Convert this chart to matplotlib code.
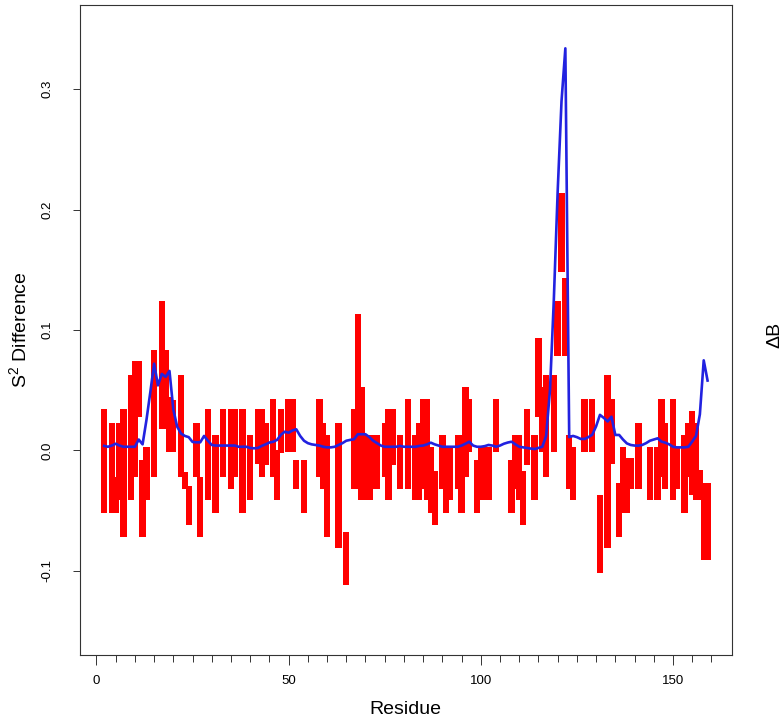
import matplotlib
matplotlib.use("Agg")
import matplotlib.pyplot as plt
import numpy as np

plt.rcParams['font.family'] = ['Liberation Sans', 'DejaVu Sans']
plt.rcParams['mathtext.fontset'] = 'custom'
plt.rcParams['mathtext.rm'] = 'Liberation Sans'

# S2 difference range per residue (red bars): residue, low, high
red_res = [2, 4, 5, 6, 7, 9, 10, 11, 12, 13, 15, 17, 18, 19, 20, 22, 23, 24, 26, 27, 29,
           31, 33, 35, 36, 38, 40, 42, 43, 44, 46, 47, 48, 50, 51, 52, 54, 58, 59, 60, 63, 65,
           67, 68, 69, 70, 71, 72, 73, 75, 76, 77, 79, 81, 83, 84, 85, 86, 87, 88, 90, 91,
           92, 94, 95, 96, 97, 99, 100, 101, 102, 104, 108, 109, 110, 111, 112, 114, 115, 116, 117, 119,
           120, 121, 122, 123, 124, 127, 129, 131, 133, 134, 136, 137, 138, 139, 141, 144, 146, 147, 148, 150,
           151, 153, 154, 155, 156, 157, 158, 159]
red_lo = [-0.052, -0.052, -0.052, -0.041, -0.072, -0.041, -0.022, 0.028, -0.072, -0.041, -0.022, 0.018, 0.018, -0.001, -0.001, -0.022, -0.032, -0.062, -0.022, -0.072, -0.041,
          -0.052, -0.022, -0.032, -0.022, -0.052, -0.041, -0.011, -0.022, -0.012, -0.022, -0.041, -0.002, -0.001, -0.001, -0.032, -0.052, -0.022, -0.032, -0.072, -0.081, -0.112,
          -0.032, -0.032, -0.041, -0.041, -0.041, -0.032, -0.032, -0.022, -0.041, -0.012, -0.032, -0.032, -0.041, -0.041, -0.032, -0.041, -0.052, -0.062, -0.032, -0.052,
          -0.041, -0.032, -0.052, -0.022, -0.001, -0.052, -0.041, -0.041, -0.041, -0.001, -0.052, -0.032, -0.041, -0.062, -0.012, -0.041, 0.028, -0.001, -0.022, -0.001,
          0.078, 0.148, 0.078, -0.032, -0.041, -0.001, -0.001, -0.102, -0.081, -0.011, -0.072, -0.052, -0.052, -0.032, -0.032, -0.041, -0.041, -0.022, -0.032, -0.041,
          -0.032, -0.052, -0.022, -0.037, -0.041, -0.041, -0.091, -0.091]
red_hi = [0.034, 0.023, -0.022, 0.023, 0.034, 0.063, 0.074, 0.074, -0.008, 0.003, 0.083, 0.124, 0.083, 0.044, 0.042, 0.063, -0.018, -0.030, 0.023, -0.022, 0.034,
          0.013, 0.034, 0.034, 0.034, 0.034, 0.013, 0.034, 0.034, 0.023, 0.043, 0.000, 0.034, 0.043, 0.043, -0.008, -0.008, 0.043, 0.023, 0.013, 0.023, -0.068,
          0.034, 0.113, 0.053, 0.013, 0.013, 0.013, 0.013, 0.023, 0.034, 0.034, 0.013, 0.043, 0.013, 0.023, 0.043, 0.043, 0.003, -0.017, 0.013, 0.003,
          0.003, 0.013, 0.013, 0.053, 0.043, -0.008, 0.003, 0.003, 0.003, 0.043, -0.008, 0.013, 0.013, -0.017, 0.034, 0.013, 0.093, 0.053, 0.063, 0.063,
          0.124, 0.214, 0.143, 0.013, 0.003, 0.043, 0.043, -0.037, 0.063, 0.043, -0.027, 0.003, -0.006, -0.006, 0.023, 0.003, 0.003, 0.043, 0.023, 0.043,
          0.003, 0.013, 0.023, 0.033, 0.023, -0.016, -0.027, -0.027]

# Delta B per residue (blue line), residues 2..159
blue_res = list(range(2, 160))
blue_val = [0.0037, 0.003, 0.004, 0.0055, 0.004, 0.003, 0.003, 0.003, 0.003, 0.009,
            0.005, 0.025, 0.048, 0.072, 0.054, 0.0635, 0.061, 0.066, 0.034, 0.0197,
            0.014, 0.012, 0.011, 0.007, 0.0067, 0.0067, 0.012, 0.008, 0.0045, 0.004,
            0.004, 0.004, 0.004, 0.004, 0.004, 0.003, 0.003, 0.003, 0.002, 0.0017,
            0.002, 0.0037, 0.005, 0.0065, 0.0072, 0.0087, 0.013, 0.0155, 0.0147, 0.0165,
            0.0175, 0.012, 0.008, 0.006, 0.005, 0.0045, 0.004, 0.003, 0.0025, 0.0025,
            0.003, 0.0045, 0.006, 0.008, 0.0087, 0.0092, 0.0134, 0.0134, 0.0134, 0.011,
            0.008, 0.006, 0.004, 0.003, 0.003, 0.003, 0.003, 0.0037, 0.003, 0.003,
            0.003, 0.003, 0.0037, 0.004, 0.005, 0.0064, 0.005, 0.004, 0.003, 0.003,
            0.003, 0.003, 0.003, 0.004, 0.0055, 0.0072, 0.004, 0.003, 0.003, 0.0035,
            0.0045, 0.004, 0.003, 0.004, 0.0055, 0.0065, 0.0072, 0.005, 0.003, 0.0025,
            0.002, 0.0015, 0.0011, 0.002, 0.003, 0.012, 0.05, 0.125, 0.215, 0.29,
            0.334, 0.011, 0.012, 0.011, 0.0095, 0.0095, 0.011, 0.013, 0.02, 0.0295,
            0.027, 0.024, 0.028, 0.0128, 0.0128, 0.009, 0.0058, 0.0045, 0.004, 0.0039,
            0.0045, 0.006, 0.008, 0.009, 0.010, 0.0073, 0.0064, 0.005, 0.003, 0.0025,
            0.0025, 0.0025, 0.003, 0.0073, 0.012, 0.03, 0.0748, 0.058]

ytick_vals = [-0.1, 0.0, 0.1, 0.2, 0.3]
ytick_labels = ["-0.1", "0.0", "0.1", "0.2", "0.3"]
xtick_major = [0, 50, 100, 150]

W, H = 783, 724
fig = plt.figure(figsize=(W / 100, H / 100), dpi=100)
ax = fig.add_axes([80 / W, 69 / H, 651.7 / W, 650 / H])

lo = np.array(red_lo)
hi = np.array(red_hi)
ax.bar(red_res, hi - lo, bottom=lo, width=1.65, color='#ff0000', linewidth=0)
ax.plot(blue_res, blue_val, color='#2222e0', linewidth=1.9, solid_joinstyle='round')

ax.set_xlim(-4.28, 165.28)
ax.set_ylim(-0.17, 0.37)

ax.set_xticks(xtick_major)
ax.set_xticklabels([str(v) for v in xtick_major])
ax.set_xticks(np.arange(0, 161, 5), minor=True)
ax.set_yticks(ytick_vals)
ax.set_yticklabels(ytick_labels, rotation=90, va='center')

ax.tick_params(axis='x', which='major', length=7.2, width=0.7, pad=7, labelsize=9.5, color='#333333')
ax.tick_params(axis='x', which='minor', length=4.8, width=0.7, color='#333333')
ax.tick_params(axis='y', which='major', length=5, width=0.7, pad=14, labelsize=9.5, color='#333333')

for s in ax.spines.values():
    s.set_color('#333333')
    s.set_linewidth(0.8)

ax.set_xlabel("Residue", fontsize=14, labelpad=10)
ax.set_ylabel(r"$\mathregular{S^2}$ Difference", fontsize=14, labelpad=8)
fig.text(775 / W, 1 - 335 / H, "ΔB", rotation=90, fontsize=14, ha='center', va='center')

fig.savefig("out.png", dpi=100)
